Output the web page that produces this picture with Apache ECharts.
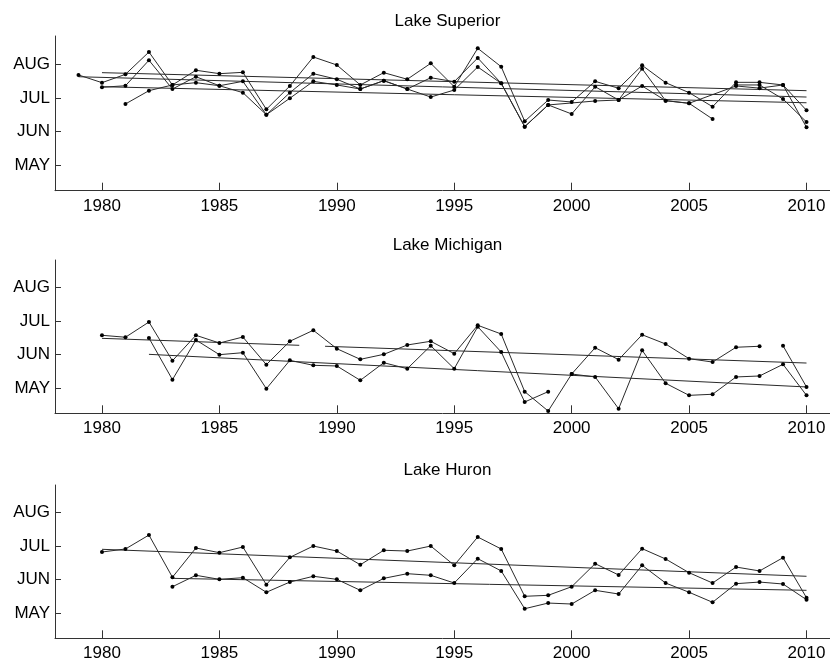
<!DOCTYPE html>
<html>
<head>
<meta charset="utf-8">
<script src="https://cdn.jsdelivr.net/npm/echarts@6/dist/echarts.min.js"></script>
<style>html,body{margin:0;padding:0;background:#fff;}#c{width:830px;height:666px;}</style>
</head>
<body>
<div id="c"></div>
<script>
// ---- data (day of year) ----
const panelTitles = ['Lake Superior', 'Lake Michigan', 'Lake Huron'];
const monthTicks = [121, 152, 182, 213];
const monthLabels = ['MAY', 'JUN', 'JUL', 'AUG'];
const yearTicks = [1980, 1985, 1990, 1995, 2000, 2005, 2010];

// Lake Superior
const supYearsA = [1979,1980,1981,1982,1983,1984,1985,1986,1987,1988,1989,1990,1991,1992,1993,1994,1995,1996,1997,1998,1999,2000,2001,2002,2003,2004,2005,2006,2007,2008,2009,2010];
const supA = [203,196,203.6,223.9,193.9,207.3,204.2,205.4,171.7,193,219.4,212.1,193.9,205.1,199.1,213.6,192.3,227.3,210.5,160.8,180.2,178.4,197.2,190.9,211.8,196,186.9,174.1,196.3,196.3,193.9,170.8];
const supYearsB = [1980,1981,1982,1983,1984,1985,1986,1987,1988,1989,1990,1991,1992,1993,1994,1995,1996,1997,1998,1999,2000,2001,2002,2003,2004,2005,2006,2006.5,2007,2008,2009,2010];
const supB = [191.8,193.2,216.4,190.2,201.4,193.2,197.2,166.8,186.9,204.2,199.1,190.2,197.8,190.2,200.5,196.9,218.5,195.4,155.9,175.7,167.5,192.3,180.2,208.7,179.6,177.2,162.9,null,193.9,193.9,181.1,160.2];
const supYearsC = [1981,1982,1983,1984,1985,1986,1987,1988,1989,1990,1991,1992,1993,1994,1995,1996,1997,1998,1999,2001,2002,2003,2004,2005,2007,2008,2009,2010];
const supC = [176.6,188.7,193.9,196,193.2,186.9,166.8,181.8,197.2,193.9,190.2,197.8,190.2,182.9,189.3,210.3,195.4,155.9,175.7,179.3,180.2,193,179.6,177.2,193,191,193.9,155.3];
// trend lines [x0, y0, x1, y1]
const supTrend1 = [1980, 205.1, 2010, 188.7];
const supTrend2 = [1979, 201.4, 2010, 182.9];
const supTrend3 = [1980, 192.3, 2010, 177.7];

// Lake Michigan
const micYearsA = [1980,1981,1982,1983,1984,1985,1986,1987,1988,1989,1990,1991,1992,1993,1994,1995,1996,1997,1998,1999,2000,2001,2002,2003,2004,2005,2006,2007,2008,2008.5,2009,2010];
const micA = [169.3,167.5,181.5,145.9,169.3,162.2,167.7,142.3,163.8,173.9,157,147.2,151.8,160.4,163.8,152.4,178.5,170.5,117.5,99.7,133.7,157.9,146.9,169.8,161.3,147.8,144.7,158.3,159.2,null,159.7,121.8];
const micYearsB = [1982,1983,1984,1985,1986,1987,1988,1989,1990,1991,1992,1993,1994,1995,1996,1997,1998,1999,1999.5,2000,2001,2002,2003,2004,2005,2006,2007,2008,2009,2010];
const micB = [166.8,128.5,165,151.5,153.3,120.2,146.3,141.7,141.1,127.9,144.1,138.6,159.7,138.6,177.2,153.9,108,117.5,null,133.7,131,101.8,155.5,125.2,114.1,115.1,131,131.9,142.6,114.1];
const micTrend1 = [1980, 166.5, 1988.4, 160.1];
const micTrend2 = [1989.5, 159.2, 2010, 143.8];
const micTrend3 = [1982, 151.8, 2010, 121.8];

// Lake Huron
const hurYearsA = [1980,1981,1982,1983,1984,1985,1986,1987,1988,1989,1990,1991,1992,1993,1994,1995,1996,1997,1998,1999,2000,2001,2002,2003,2004,2005,2006,2007,2008,2009,2010];
const hurA = [176.9,179.7,192.5,153.7,180.6,176.3,181.5,146.9,172,182.4,177.8,165.2,178.5,177.8,182.4,164.7,190.7,179.7,136.2,137.1,145,166.2,155.8,180,170.5,157.9,148.4,163.1,159.5,171.7,134.9];
const hurYearsB = [1983,1984,1985,1986,1987,1988,1989,1990,1991,1992,1993,1994,1995,1996,1997,1998,1999,2000,2001,2002,2003,2004,2005,2006,2007,2008,2009,2010];
const hurB = [145,155.5,151.8,153.3,139.9,149.3,154.6,151.8,141.7,152.7,157,155.5,148.4,170.8,159.5,124.8,130,129.1,141.7,138.3,164.7,148.4,139.9,130.7,147.8,149.3,147.5,133.1];
const hurTrend1 = [1980, 179.4, 2010, 154.6];
const hurTrend2 = [1983, 152.7, 2010, 141.7];

// ---- chart ----
const FONT = 'Liberation Sans, Arial, Helvetica, sans-serif';
const grids = [
  {left: 55, top: 36, width: 775, height: 154.7},
  {left: 55, top: 260, width: 775, height: 153.3},
  {left: 55, top: 485, width: 775, height: 153.3}
];
const titleTops = [8, 232, 457];

function pairs(xs, ys) { return xs.map((x, i) => [x, ys[i]]); }
function trendPairs(t) { return [[t[0], t[1]], [t[2], t[3]]]; }

const panels = [
  {data: [[supYearsA, supA], [supYearsB, supB], [supYearsC, supC]], trends: [supTrend1, supTrend2, supTrend3]},
  {data: [[micYearsA, micA], [micYearsB, micB]], trends: [micTrend1, micTrend2, micTrend3]},
  {data: [[hurYearsA, hurA], [hurYearsB, hurB]], trends: [hurTrend1, hurTrend2]}
];

const axisColor = '#333';
const xAxes = [], yAxes = [], series = [], titles = [];
panels.forEach((p, k) => {
  titles.push({text: panelTitles[k], left: 442.5, top: titleTops[k], textAlign: 'center',
    textStyle: {fontFamily: FONT, fontSize: 17, fontWeight: 'normal', color: '#000'}});
  xAxes.push({type: 'value', gridIndex: k, min: 1978, max: 2011,
    axisLine: {show: true, lineStyle: {color: axisColor, width: 1}},
    axisTick: {show: true, inside: true, length: 8, customValues: yearTicks, lineStyle: {color: axisColor}},
    axisLabel: {show: true, customValues: yearTicks, margin: 7, color: '#000', fontFamily: FONT, fontSize: 17,
      formatter: v => String(v)},
    splitLine: {show: false}});
  yAxes.push({type: 'value', gridIndex: k, min: 97.6, max: 238.5,
    axisLine: {show: true, lineStyle: {color: axisColor, width: 1}},
    axisTick: {show: true, inside: true, length: 6, customValues: monthTicks, lineStyle: {color: axisColor}},
    axisLabel: {show: true, customValues: monthTicks, margin: 5, color: '#000', fontFamily: FONT, fontSize: 17,
      formatter: v => monthLabels[monthTicks.indexOf(Math.round(v))] || ''},
    splitLine: {show: false}});
  p.data.forEach(d => {
    series.push({type: 'line', xAxisIndex: k, yAxisIndex: k, data: pairs(d[0], d[1]),
      connectNulls: false, symbol: 'circle', symbolSize: 4, showSymbol: true,
      itemStyle: {color: '#000'}, lineStyle: {color: '#2a2a2a', width: 1}, animation: false, z: 3});
  });
  p.trends.forEach(t => {
    series.push({type: 'line', xAxisIndex: k, yAxisIndex: k, data: trendPairs(t),
      symbol: 'none', lineStyle: {color: '#2a2a2a', width: 1}, animation: false, z: 2});
  });
});

const chart = echarts.init(document.getElementById('c'), null, {renderer: 'canvas'});
chart.setOption({
  backgroundColor: '#fff',
  animation: false,
  title: titles,
  grid: grids,
  xAxis: xAxes,
  yAxis: yAxes,
  series: series
});
</script>
</body>
</html>
